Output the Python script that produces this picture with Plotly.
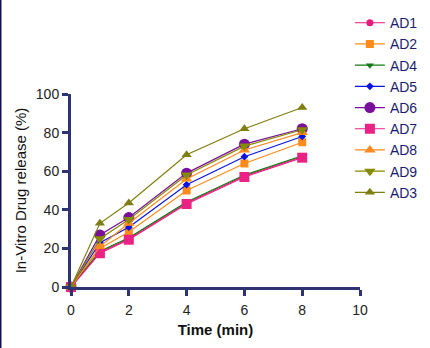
import plotly.graph_objects as go

time_min = [0, 1, 2, 4, 6, 8]
series_names = ["AD1", "AD2", "AD4", "AD5", "AD6", "AD7", "AD8", "AD9", "AD3"]
AD1 = [0, 18, 25, 43.5, 57.5, 67.5]
AD2 = [0, 20, 28.5, 50, 64, 75]
AD4 = [0, 18.5, 25.5, 44, 58, 68]
AD5 = [0, 23, 31, 53, 67.5, 78]
AD6 = [0, 27, 36, 59, 74, 82]
AD7 = [0, 17.5, 24.5, 43, 57, 67]
AD8 = [0, 21, 33, 56, 71, 80]
AD9 = [0, 25, 35, 58, 73, 81.5]
AD3 = [0, 33, 43.5, 68.5, 82, 93]
values = [AD1, AD2, AD4, AD5, AD6, AD7, AD8, AD9, AD3]

colors = ["#e8197f", "#ff8c1a", "#137a13", "#0a14e0", "#7a0f9c", "#ea2284", "#ff8a1f", "#858a00", "#7f7f10"]
symbols = ["circle", "square", "triangle-down", "diamond", "circle", "square", "triangle-up", "triangle-down", "triangle-up"]
sizes = [7, 8, 7, 6, 11, 10, 10, 10, 9]

fig = go.Figure()
for name, vals, c, s, sz in zip(series_names, values, colors, symbols, sizes):
    fig.add_trace(go.Scatter(
        x=time_min, y=vals, name=name, mode="lines+markers",
        line=dict(color=c, width=1.2),
        marker=dict(color=c, symbol=s, size=sz, line=dict(width=0)),
        cliponaxis=False,
    ))

axis_col = "#2e3472"
fig.update_layout(
    width=430, height=348,
    margin=dict(l=71, r=70, t=94, b=61, autoexpand=False),
    paper_bgcolor="white", plot_bgcolor="white",
    font=dict(family="Liberation Sans, Arial", color="#222222"),
    showlegend=True,
    legend=dict(x=0.965, y=1.45, xanchor="left", yanchor="top",
                font=dict(size=14, color="#1c1c70"), bgcolor="rgba(0,0,0,0)",
                itemwidth=30, tracegroupgap=0, maxheight=1),
    xaxis=dict(range=[0, 10], tickvals=[0, 2, 4, 6, 8, 10], showgrid=False, zeroline=False,
               showline=True, linecolor=axis_col, linewidth=3, ticks="outside", ticklen=6,
               tickwidth=3, tickcolor=axis_col,
               tickfont=dict(size=14, color="#222222", family="Liberation Sans, Arial"),
               ticklabelstandoff=2,
               title=dict(text="<b>Time (min)</b>", font=dict(size=15, color="#111111"), standoff=8)),
    yaxis=dict(range=[0, 100], tickvals=[0, 20, 40, 60, 80, 100], showgrid=False, zeroline=False,
               showline=True, linecolor=axis_col, linewidth=3, ticks="outside", ticklen=6,
               tickwidth=3, tickcolor=axis_col,
               tickfont=dict(size=14, color="#222222", family="Liberation Sans, Arial"),
               tickprefix="<b>", ticksuffix="</b>",
               title=dict(text="In-Vitro Drug release (%)", font=dict(size=15, color="#111111"), standoff=6)),
)
fig.update_xaxes(tickprefix="<b>", ticksuffix="</b>")
fig.add_shape(type="line", xref="paper", yref="paper", x0=-71/289, x1=-71/289, y0=-61/193, y1=1+94/193,
              line=dict(color="#10105a", width=3))
fig.write_html("out.html")
